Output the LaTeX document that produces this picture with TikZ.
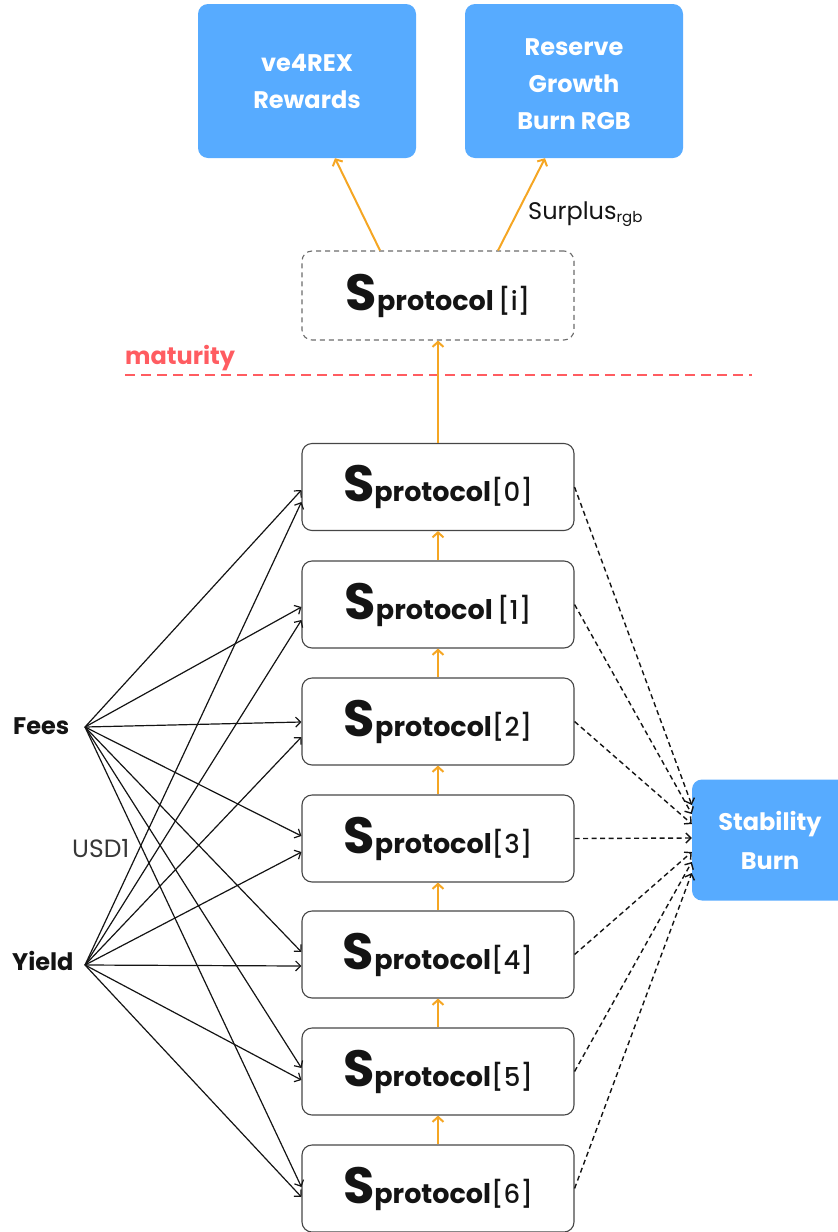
\documentclass[tikz,border=0pt]{standalone}
\usepackage{fontspec}
\setmainfont{Poppins}
\newfontfamily\medfont{Poppins Medium}
\usetikzlibrary{arrows.meta,calc}

\definecolor{boxblue}{RGB}{87,171,255}
\definecolor{flow}{RGB}{245,166,35}
\definecolor{matred}{RGB}{255,92,97}
\definecolor{edge}{RGB}{70,70,70}
\definecolor{ink}{RGB}{20,20,20}

% S_protocol[k] label
\newcommand{\sprot}[1]{{\fontsize{51}{51}\selectfont\bfseries S}{\fontsize{27}{27}\selectfont\bfseries protocol}{\medfont\fontsize{26}{26}\selectfont #1}}

\tikzset{
  bluebox/.style={rectangle, rounded corners=10pt, fill=boxblue, text=white,
    font=\fontsize{24}{37}\selectfont\bfseries, align=center, inner sep=0pt},
  boxtext/.style={text=white, font=\fontsize{24}{37}\selectfont\bfseries, align=center, inner sep=0pt},
  stage/.style={rectangle, rounded corners=10pt, draw=edge, line width=1.1pt,
    minimum width=272pt, minimum height=87pt, inner sep=0pt, text=ink},
  feed/.style={ink, line width=1.2pt, -{Straight Barb[length=5pt,width=10pt]}},
  burn/.style={ink, line width=1.4pt, dash pattern=on 5pt off 3.5pt,
    -{Straight Barb[length=5pt,width=10pt]}},
  flowarrow/.style={flow, line width=2pt, -{Straight Barb[length=5pt,width=11pt]}},
  src/.style={font=\fontsize{24}{24}\selectfont\bfseries, text=ink, inner sep=0pt, anchor=base west},
}

\begin{document}
\begin{tikzpicture}[x=1pt,y=-1pt]
\useasboundingbox (0,0) rectangle (838,1232);

% targets at the top
\node[bluebox, minimum width=218pt, minimum height=154pt] (ve4) at (307,81) {ve4REX\\Rewards};
\node[bluebox, minimum width=218pt, minimum height=154pt] (res) at (574,81) {};
\node[boxtext] (restext) at (574,84) {Reserve\\Growth\\Burn RGB};

% mature stage
\node[stage, draw=edge!80, dash pattern=on 5pt off 4pt, minimum height=89pt] (si) at (438,295.5) {\sprot{\,[i]}};

% maturity threshold
\coordinate (ml) at (125,375);
\coordinate (mr) at (752,375);
\draw[matred, line width=2pt, dash pattern=on 10pt off 6pt] (ml) -- (mr);
\node[font=\fontsize{24}{24}\selectfont\bfseries, text=matred, inner sep=0pt, anchor=base west] (mat) at (125,364) {maturity};

% stages 0..6
\node[stage] (s0) at (438,487)    {\sprot{[0]}};
\node[stage] (s1) at (438,604.5)  {\sprot{\,[1]}};
\node[stage] (s2) at (438,721.5)  {\sprot{[2]}};
\node[stage] (s3) at (438,838.5)  {\sprot{[3]}};
\node[stage] (s4) at (438,954.5)  {\sprot{[4]}};
\node[stage] (s5) at (438,1071.5) {\sprot{[5]}};
\node[stage] (s6) at (438,1188.5) {\sprot{[6]}};

% burn sink
\node[bluebox, minimum width=156pt, minimum height=121pt, font=\fontsize{24}{39}\selectfont\bfseries] (stab) at (770,840) {Stability\\Burn};

% sources
\node[src] (fees) at (13,734) {Fees};
\node[src] (yield) at (12,970) {Yield};
\coordinate (fo) at (85,727);
\coordinate (yo) at (85,965);
\node[font=\fontsize{25}{25}\selectfont, text=ink!85, inner sep=0pt, anchor=base west] (usd) at (72,857) {USD1};

% orange flow upwards
\foreach \a/\b in {s6/s5,s5/s4,s4/s3,s3/s2,s2/s1,s1/s0,s0/si}
  \draw[flowarrow] (\a.north) -- (\b.south);
\draw[flowarrow] ($(si.north)+(-58,0)$) -- ($(ve4.south)+(28,0)$);
\draw[flowarrow] ($(si.north)+(60,0)$) -- ($(res.south)+(-29,0)$);
\node[inner sep=0pt, text=ink, font=\fontsize{24}{24}\selectfont, anchor=base west] (sur) at (528,219) {Surplus{\fontsize{15}{15}\selectfont\raisebox{-3pt}{rgb}}};

% fees and yield into each stage
\foreach \n/\f/\y in {s0/3/15, s1/2.5/15.5, s2/0.5/15.5, s3/-2.5/13.5, s4/-2.5/11.5, s5/-3.5/8.5, s6/-1.5/8.5}{
  \draw[feed] (fo) -- ($(\n.west)+(0,\f)$);
  \draw[feed] (yo) -- ($(\n.west)+(0,\y)$);
}

% stages into the stability burn
\foreach \n/\t in {s0/-35, s1/-26, s2/-16, s3/-2, s4/12, s5/22, s6/33}
  \draw[burn] (\n.east) -- ($(stab.west)+(0,\t)$);
\end{tikzpicture}
\end{document}
